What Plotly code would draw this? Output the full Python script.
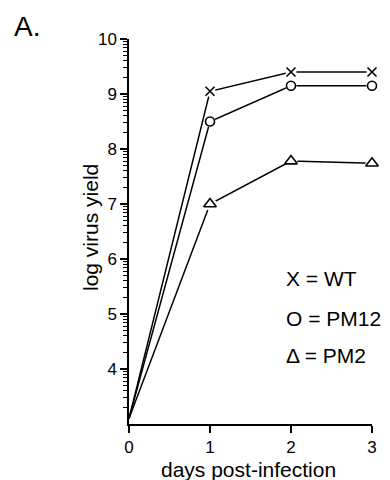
import math
import plotly.graph_objects as go

days = [0, 1, 2, 3]
wt = [3.1, 9.05, 9.4, 9.4]
pm12 = [3.1, 8.5, 9.15, 9.15]
pm2 = [3.1, 7.0, 7.78, 7.74]
series = [
    ("WT", wt, dict(symbol="x-thin-open", size=9)),
    ("PM12", pm12, dict(symbol="circle-open", size=9)),
    ("PM2", pm2, dict(symbol="triangle-up-open", size=11)),
]
y_ticks = [4, 5, 6, 7, 8, 9, 10]
x_ticks = [0, 1, 2, 3]
legend_lines = ["X = WT", "O = PM12", "Δ = PM2"]

FONT = "Liberation Sans, Arial, Helvetica, sans-serif"

# page pixel -> paper coordinate helpers (page has an 8px body margin)
X0, X1, Y0, Y1 = 129, 372, 424, 39
def px(x):
    return (x - X0) / (X1 - X0)
def py(y):
    return (Y0 - y) / (Y0 - Y1)

fig = go.Figure()
for name, vals, mk in series:
    fig.add_trace(go.Scatter(x=days, y=vals, mode="lines",
                             line=dict(color="black", width=1.5),
                             showlegend=False, hoverinfo="skip"))
for name, vals, mk in series:
    # white knock-out under each glyph so the line stops at the glyph edge
    fig.add_trace(go.Scatter(x=days[1:], y=vals[1:], mode="markers",
                             marker=dict(color="white", size=mk["size"] + 2, symbol="circle"),
                             showlegend=False, hoverinfo="skip", cliponaxis=False))
    fig.add_trace(go.Scatter(x=days[1:], y=vals[1:], mode="markers", name=name,
                             marker=dict(symbol=mk["symbol"], size=mk["size"], color="black",
                                         line=dict(color="black", width=1.6)),
                             showlegend=False, cliponaxis=False))

minor_vals = [d + math.log10(k) for d in range(3, 10) for k in range(2, 10)]

fig.update_layout(
    width=382, height=472,
    margin=dict(l=121, r=18, t=31, b=56),
    plot_bgcolor="white", paper_bgcolor="white",
    font=dict(family=FONT, color="black", size=17),
    xaxis=dict(range=[0, 3], tickvals=x_ticks, showgrid=False, zeroline=False,
               showline=True, linecolor="black", linewidth=1.5,
               ticks="outside", ticklen=7, tickwidth=1.5, tickcolor="black",
               tickfont=dict(size=17)),
    yaxis=dict(range=[3, 10], tickvals=y_ticks, showgrid=False, zeroline=False,
               showline=True, linecolor="black", linewidth=1.5,
               ticks="outside", ticklen=7, tickwidth=1.5, tickcolor="black",
               tickfont=dict(size=17),
               minor=dict(tickmode="array", tickvals=minor_vals, ticks="outside",
                          ticklen=4, tickwidth=1, tickcolor="black")),
)

fig.add_annotation(text="days post-infection", xref="paper", yref="paper",
                   x=px(248), y=py(469), xanchor="center", yanchor="middle",
                   showarrow=False, font=dict(size=21))
fig.add_annotation(text="log virus yield", xref="paper", yref="paper",
                   x=px(90), y=py(228), xanchor="center", yanchor="middle",
                   textangle=-90, showarrow=False, font=dict(size=21))

for i, t in enumerate(legend_lines):
    fig.add_annotation(text=t, xref="paper", yref="paper", x=px(284),
                       y=py([278, 318, 355][i]), xanchor="left", yanchor="middle",
                       showarrow=False, font=dict(size=21))

fig.add_annotation(text="A.", xref="paper", yref="paper", x=px(12), y=py(27),
                   xanchor="left", yanchor="middle", showarrow=False,
                   font=dict(size=28))

fig.write_html("out.html")
